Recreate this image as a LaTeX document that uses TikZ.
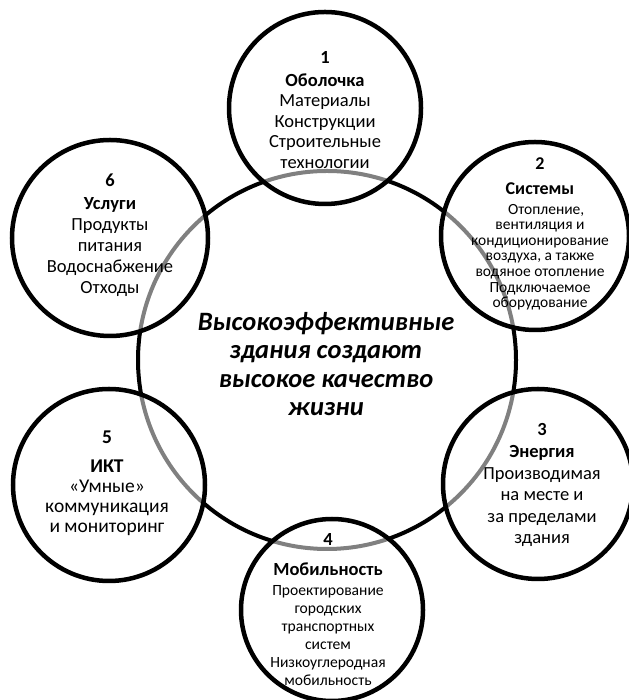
\documentclass[tikz,border=0pt]{standalone}
\usepackage{fontspec}
\setmainfont{Carlito}
\begin{document}
\begin{tikzpicture}[x=1pt, y=1pt,
  hub node/.style={circle, draw, line width=4pt, inner sep=0pt},
  petal node/.style={circle, draw, line width=4.5pt, inner sep=0pt, fill=white, fill opacity=0.5},
  petal text/.style={align=center, font=\fontsize{18.5}{21}\selectfont},
  small text/.style={align=center, font=\fontsize{15.5}{15.6}\selectfont},
  head/.style={font=\fontsize{18.5}{21}\selectfont\bfseries}]
\useasboundingbox (0,0) rectangle (628,700);
% big circle first, petals on top
\node[hub node, minimum size=378pt]   (hub)      at (327,340) {};
\node[petal node, minimum size=192pt] (shell)    at (325,592) {};
\node[petal node, minimum size=188pt] (systems)  at (535,464) {};
\node[petal node, minimum size=190pt] (energy)   at (538,216) {};
\node[petal node, minimum size=182pt] (mobility) at (332,90)  {};
\node[petal node, minimum size=192pt] (ict)      at (109,215) {};
\node[petal node, minimum size=196pt] (services) at (110,462) {};

\node[align=center, font=\fontsize{26.5}{28.5}\selectfont\bfseries\itshape] (title) at (326,336)
  {Высокоэффективные\\здания создают\\высокое качество\\жизни};

\node[petal text, font=\fontsize{18.5}{20.5}\selectfont] (shell text) at (325,590)
  {\textbf{1}\\[2.5pt]\textbf{Оболочка}\\Материалы\\Конструкции\\Строительные\\технологии};
\node[small text] (systems text) at (540,466)
  {\fontsize{18}{20}\selectfont\textbf{2}\\[9pt]\fontsize{18}{20}\selectfont\textbf{Системы}\\[4.5pt]
   \hspace*{0.8em}Отопление,\\вентиляция и\\кондиционирование\\воздуха, а также\\водяное отопление\\Подключаемое\\оборудование};
\node[align=center, font=\fontsize{15.6}{18}\selectfont] (mobility text) at (328,90)
  {\fontsize{18.5}{21}\selectfont\textbf{4}\\[12pt]\fontsize{18.5}{21}\selectfont\textbf{Мобильность}\\[2pt]
   Проектирование\\городских\\транспортных\\систем\\Низкоуглеродная\\мобильность};
\node[petal text, font=\fontsize{18.5}{21.5}\selectfont] (energy text) at (542,215)
  {\textbf{3}\\[1pt]\textbf{Энергия}\\Производимая\\на месте и\\за пределами\\здания};
\node[petal text, font=\fontsize{19.5}{20}\selectfont] (ict text) at (107,217)
  {\textbf{5}\\[9pt]\textbf{ИКТ}\\«Умные»\\коммуникация\\и мониторинг};
\node[petal text] (services text) at (110,465)
  {\textbf{6}\\[2pt]\textbf{Услуги}\\Продукты\\питания\\Водоснабжение\\Отходы};
\end{tikzpicture}
\end{document}
